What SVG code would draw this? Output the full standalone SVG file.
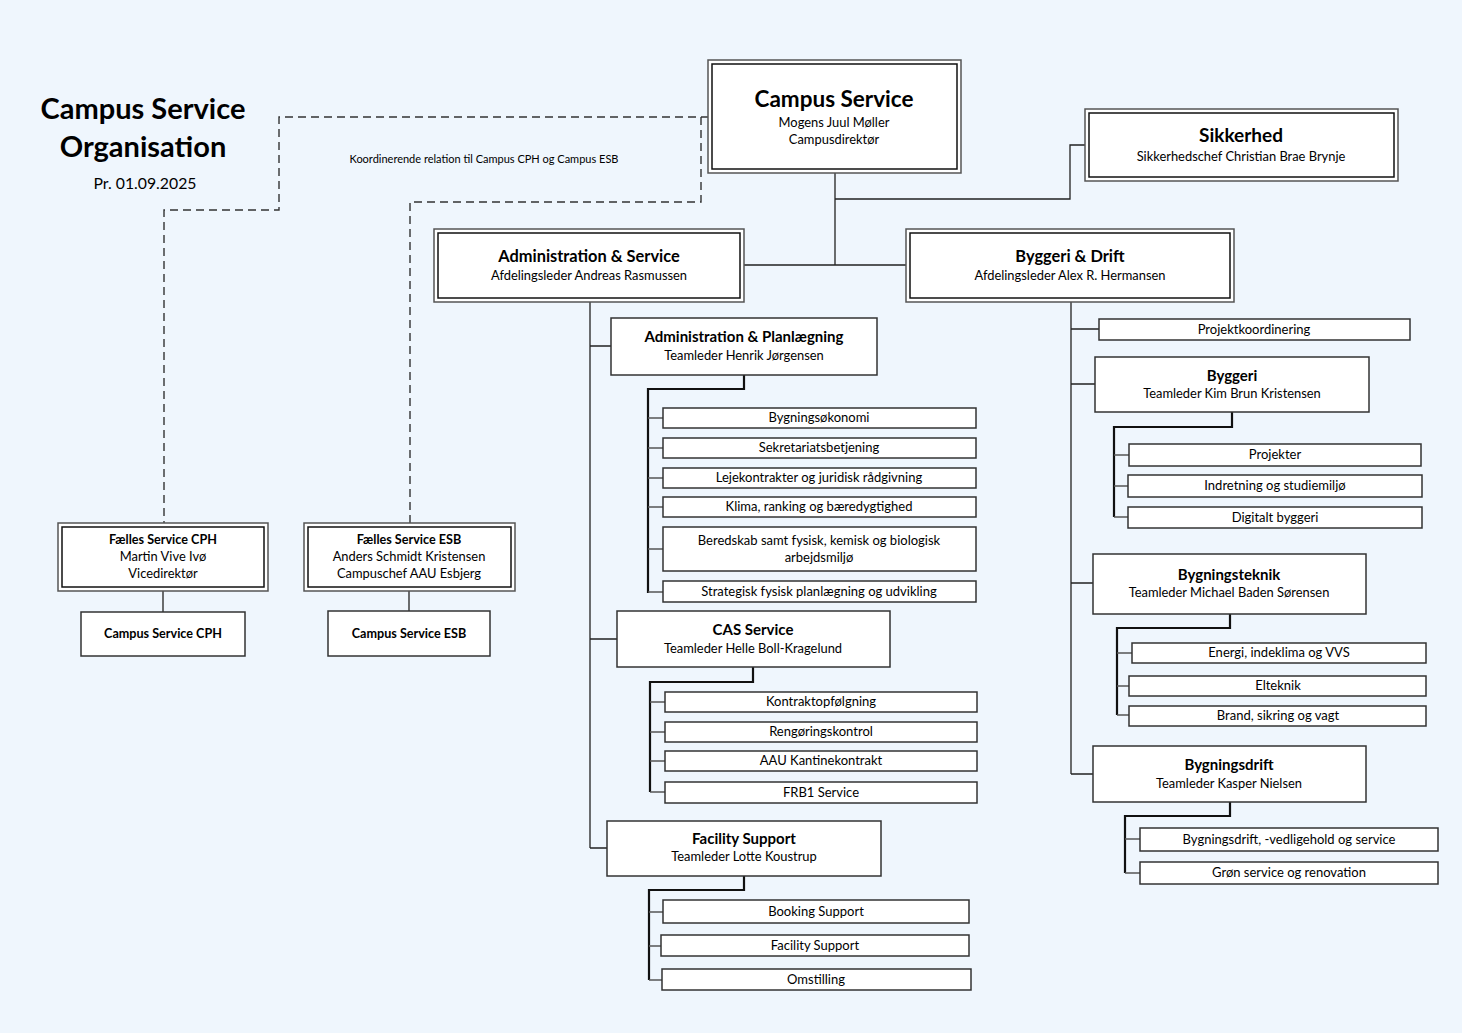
<svg xmlns="http://www.w3.org/2000/svg" width="1462" height="1033" viewBox="0 0 1462 1033">
<style>
text{font-family:Lato,"Open Sans","DejaVu Sans",sans-serif;fill:#000;text-anchor:middle}
.t{font-weight:bold;font-size:15px}
.s{font-size:12.9px}
.c{font-size:13px}
.box{fill:#fff;stroke:#333;stroke-width:1.5}
.outer{fill:#fff;stroke:#555;stroke-width:1.5}
.inner{fill:#fff;stroke:#111;stroke-width:1.5}
.ln{fill:none;stroke:#222;stroke-width:1.3}
.thk{fill:none;stroke:#111;stroke-width:2.2}
.br{fill:none;stroke:#555;stroke-width:1.3}
.dash{fill:none;stroke:#333;stroke-width:1.4;stroke-dasharray:8 5}
</style>
<rect width="1462" height="1033" fill="#EFF6FD"/>
<g id="title">
<text x="143" y="119" style="font-weight:bold;font-size:29px">Campus Service</text>
<text x="143" y="157" style="font-weight:bold;font-size:29px">Organisation</text>
<text x="145" y="189" style="font-size:15.8px">Pr. 01.09.2025</text>
<text x="484" y="163" style="font-size:11px">Koordinerende relation til Campus CPH og Campus ESB</text>
</g>
<g id="connectors">
<path class="dash" d="M709 117H279V210H164V523"/>
<path class="dash" d="M701 117V202H410V523"/>
<path class="ln" d="M835 173V265M835 199H1070V145H1085M743 265H907"/>
<path class="ln" d="M590 302V848M590 346H611M590 639H617M590 848H607"/>
<path class="thk" d="M744 375V389H648V593"/>
<path class="br" d="M648 418H663M648 448H663M648 478H663M648 507H663M648 549H663M648 592H663"/>
<path class="thk" d="M753 667V682H650V792"/>
<path class="br" d="M650 702H665M650 732H665M650 761H665M650 792H665"/>
<path class="thk" d="M744 876V890H649V980"/>
<path class="br" d="M649 912H663M649 946H661M649 980H662"/>
<path class="ln" d="M1071 302V774M1071 329H1099M1071 384H1095M1071 583H1093M1071 774H1093"/>
<path class="thk" d="M1232 412V427H1114V517"/>
<path class="br" d="M1114 455H1129M1114 486H1128M1114 517H1128"/>
<path class="thk" d="M1230 614V628H1117V715"/>
<path class="br" d="M1117 653H1132M1117 686H1129M1117 715H1129"/>
<path class="thk" d="M1230 802V816H1125V873"/>
<path class="br" d="M1125 839H1140M1125 873H1140"/>
<path class="ln" d="M163 591V612M409 591V611"/>
</g>
<g id="campus-service">
<rect class="outer" x="708" y="60" width="253" height="113"/>
<rect class="inner" x="712" y="64" width="245" height="105"/>
<text x="834" y="107" style="font-weight:bold;font-size:22.5px">Campus Service</text>
<text class="s" x="834" y="127">Mogens Juul Møller</text>
<text class="s" x="834" y="144">Campusdirektør</text>
</g>
<g id="sikkerhed">
<rect class="outer" x="1085" y="109" width="313" height="72"/>
<rect class="inner" x="1089" y="113" width="305" height="64"/>
<text x="1241" y="142" style="font-weight:bold;font-size:19px">Sikkerhed</text>
<text class="s" x="1241" y="161">Sikkerhedschef Christian Brae Brynje</text>
</g>
<g id="adm-service">
<rect class="outer" x="434" y="229" width="310" height="73"/>
<rect class="inner" x="438" y="233" width="302" height="65"/>
<text x="589" y="262" style="font-weight:bold;font-size:16.4px">Administration &amp; Service</text>
<text class="s" x="589" y="280">Afdelingsleder Andreas Rasmussen</text>
</g>
<g id="byggeri-drift">
<rect class="outer" x="906" y="229" width="328" height="73"/>
<rect class="inner" x="910" y="233" width="320" height="65"/>
<text x="1070" y="262" style="font-weight:bold;font-size:16.4px">Byggeri &amp; Drift</text>
<text class="s" x="1070" y="280">Afdelingsleder Alex R. Hermansen</text>
</g>
<g id="faelles-cph">
<rect class="outer" x="58" y="523" width="210" height="68"/>
<rect class="inner" x="62" y="527" width="202" height="60"/>
<text x="163" y="544" style="font-weight:bold;font-size:12.6px">Fælles Service CPH</text>
<text class="s" x="163" y="561">Martin Vive Ivø</text>
<text class="s" x="163" y="578">Vicedirektør</text>
</g>
<g id="campus-cph">
<rect class="box" x="81" y="612" width="164" height="44"/>
<text x="163" y="638" style="font-weight:bold;font-size:12.6px">Campus Service CPH</text>
</g>
<g id="faelles-esb">
<rect class="outer" x="304" y="523" width="211" height="68"/>
<rect class="inner" x="308" y="527" width="203" height="60"/>
<text x="409" y="544" style="font-weight:bold;font-size:12.6px">Fælles Service ESB</text>
<text class="s" x="409" y="561">Anders Schmidt Kristensen</text>
<text class="s" x="409" y="578">Campuschef AAU Esbjerg</text>
</g>
<g id="campus-esb">
<rect class="box" x="328" y="611" width="162" height="45"/>
<text x="409" y="638" style="font-weight:bold;font-size:12.6px">Campus Service ESB</text>
</g>
<g id="adm-plan">
<rect class="box" x="611" y="318" width="266" height="57"/>
<text class="t" x="744" y="342">Administration  &amp; Planlægning</text>
<text class="s" x="744" y="360">Teamleder Henrik Jørgensen</text>
</g>
<g id="adm-plan-children">
<rect class="box" x="663" y="408" width="313" height="20"/><text class="c" x="819" y="422">Bygningsøkonomi</text>
<rect class="box" x="663" y="438" width="313" height="20"/><text class="c" x="819" y="452">Sekretariatsbetjening</text>
<rect class="box" x="663" y="468" width="313" height="20"/><text class="c" x="819" y="482">Lejekontrakter og juridisk rådgivning</text>
<rect class="box" x="663" y="497" width="313" height="20"/><text class="c" x="819" y="511">Klima, ranking og bæredygtighed</text>
<rect class="box" x="663" y="527" width="313" height="44"/><text class="c" x="819" y="545">Beredskab samt fysisk, kemisk og biologisk</text><text class="c" x="819" y="562">arbejdsmiljø</text>
<rect class="box" x="663" y="581" width="313" height="21"/><text class="c" x="819" y="596">Strategisk fysisk planlægning og udvikling</text>
</g>
<g id="cas">
<rect class="box" x="617" y="611" width="273" height="56"/>
<text class="t" x="753" y="635">CAS Service</text>
<text class="s" x="753" y="653">Teamleder Helle Boll-Kragelund</text>
</g>
<g id="cas-children">
<rect class="box" x="665" y="692" width="312" height="20"/><text class="c" x="821" y="706">Kontraktopfølgning</text>
<rect class="box" x="665" y="722" width="312" height="20"/><text class="c" x="821" y="736">Rengøringskontrol</text>
<rect class="box" x="665" y="751" width="312" height="20"/><text class="c" x="821" y="765">AAU Kantinekontrakt</text>
<rect class="box" x="665" y="782" width="312" height="21"/><text class="c" x="821" y="797">FRB1 Service</text>
</g>
<g id="facility">
<rect class="box" x="607" y="821" width="274" height="55"/>
<text class="t" x="744" y="844">Facility Support</text>
<text class="s" x="744" y="861">Teamleder Lotte Koustrup</text>
</g>
<g id="facility-children">
<rect class="box" x="663" y="900" width="306" height="23"/><text class="c" x="816" y="916">Booking Support</text>
<rect class="box" x="661" y="935" width="308" height="21"/><text class="c" x="815" y="950">Facility Support</text>
<rect class="box" x="662" y="969" width="309" height="21"/><text class="c" x="816" y="984">Omstilling</text>
</g>
<g id="projektkoordinering">
<rect class="box" x="1099" y="319" width="311" height="21"/><text class="c" x="1254" y="334">Projektkoordinering</text>
</g>
<g id="byggeri">
<rect class="box" x="1095" y="357" width="274" height="55"/>
<text class="t" x="1232" y="381">Byggeri</text>
<text class="s" x="1232" y="398">Teamleder Kim Brun Kristensen</text>
</g>
<g id="byggeri-children">
<rect class="box" x="1129" y="444" width="292" height="22"/><text class="c" x="1275" y="459">Projekter</text>
<rect class="box" x="1128" y="475" width="294" height="22"/><text class="c" x="1275" y="490">Indretning og studiemiljø</text>
<rect class="box" x="1128" y="507" width="294" height="21"/><text class="c" x="1275" y="522">Digitalt byggeri</text>
</g>
<g id="bygningsteknik">
<rect class="box" x="1093" y="554" width="273" height="60"/>
<text class="t" x="1229" y="580">Bygningsteknik</text>
<text class="s" x="1229" y="597">Teamleder Michael Baden Sørensen</text>
</g>
<g id="bygningsteknik-children">
<rect class="box" x="1132" y="643" width="294" height="20"/><text class="c" x="1279" y="657">Energi, indeklima og VVS</text>
<rect class="box" x="1129" y="676" width="297" height="20"/><text class="c" x="1278" y="690">Elteknik</text>
<rect class="box" x="1129" y="706" width="297" height="20"/><text class="c" x="1278" y="720">Brand, sikring og vagt</text>
</g>
<g id="bygningsdrift">
<rect class="box" x="1093" y="746" width="273" height="56"/>
<text class="t" x="1229" y="770">Bygningsdrift</text>
<text class="s" x="1229" y="788">Teamleder Kasper Nielsen</text>
</g>
<g id="bygningsdrift-children">
<rect class="box" x="1140" y="828" width="298" height="23"/><text class="c" x="1289" y="844">Bygningsdrift, -vedligehold og service</text>
<rect class="box" x="1140" y="862" width="298" height="22"/><text class="c" x="1289" y="877">Grøn service og renovation</text>
</g>
</svg>
